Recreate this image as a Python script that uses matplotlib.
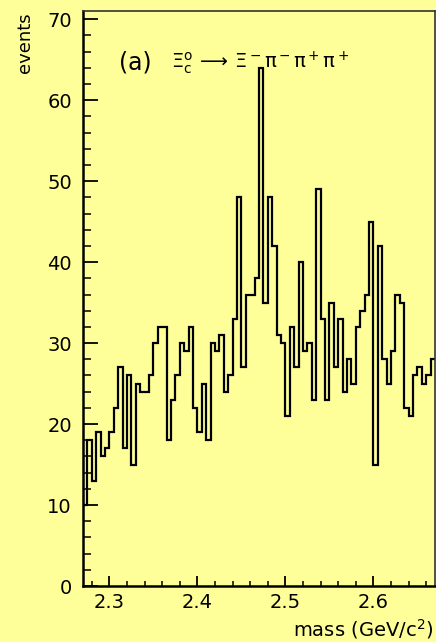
import numpy as np
import matplotlib.pyplot as plt

plt.rcParams['mathtext.default'] = 'regular'

# 80 bins of 5 MeV between 2.27 and 2.67 GeV
lo, hi = 2.27, 2.67
counts = [10, 18, 13, 19, 16, 17, 19, 22, 27, 17,
          26, 15, 25, 24, 24, 26, 30, 32, 32, 18,
          23, 26, 30, 29, 32, 22, 19, 25, 18, 30,
          29, 31, 24, 26, 33, 48, 27, 36, 36, 38,
          64, 35, 48, 42, 31, 30, 21, 32, 27, 40,
          29, 30, 23, 49, 33, 23, 35, 27, 33, 24,
          28, 25, 32, 34, 36, 45, 15, 42, 28, 25,
          29, 36, 35, 22, 21, 26, 27, 25, 26, 28]
edges = np.linspace(lo, hi, len(counts) + 1)

x_ticks = [2.3, 2.4, 2.5, 2.6]
y_ticks = [0, 10, 20, 30, 40, 50, 60, 70]

bg = '#ffff99'

fig = plt.figure(figsize=(4.36, 6.42), dpi=100, facecolor=bg)
ax = fig.add_axes([83/436, 56/642, (435-83)/436, (631.3-56)/642])
ax.set_facecolor(bg)

ax.stairs(counts, edges, baseline=None, color='black', linewidth=1.6)

ax.set_xlim(lo, hi)
ax.set_ylim(0, 71.05)

ax.set_xticks(x_ticks)
ax.set_xticklabels([str(t) for t in x_ticks])
ax.set_xticks(np.arange(2.28, 2.67, 0.02), minor=True)
ax.set_yticks(y_ticks)
ax.set_yticks(np.arange(0, 71, 2), minor=True)

ax.tick_params(axis='x', which='major', direction='in', length=7.5, width=1.3, labelsize=14, pad=5)
ax.tick_params(axis='x', which='minor', direction='in', length=3.5, width=1.1)
ax.tick_params(axis='y', which='major', direction='in', length=11, width=1.3, labelsize=14, pad=8)
ax.tick_params(axis='y', which='minor', direction='in', length=5.5, width=1.1)

for side in ['left', 'bottom']:
    ax.spines[side].set_linewidth(1.8)
for side in ['top', 'right']:
    ax.spines[side].set_linewidth(1.2)
    ax.spines[side].set_color('#333333')

fig.text(25/436, 1 - 12/642, 'events', rotation=90, ha='center', va='top', fontsize=13)
fig.text(433/436, 1 - 629/642, 'mass (GeV/c$^2$)', ha='right', va='center', fontsize=14)

ax.text(2.311, 64.6, '(a)', fontsize=17, va='center', ha='left')
ax.text(2.370, 64.6, r'$\Xi_c^o\,\longrightarrow\,\Xi^-\pi^-\pi^+\pi^+$', fontsize=14,
        va='center', ha='left')

fig.savefig('out.png', dpi=100, facecolor=bg)
